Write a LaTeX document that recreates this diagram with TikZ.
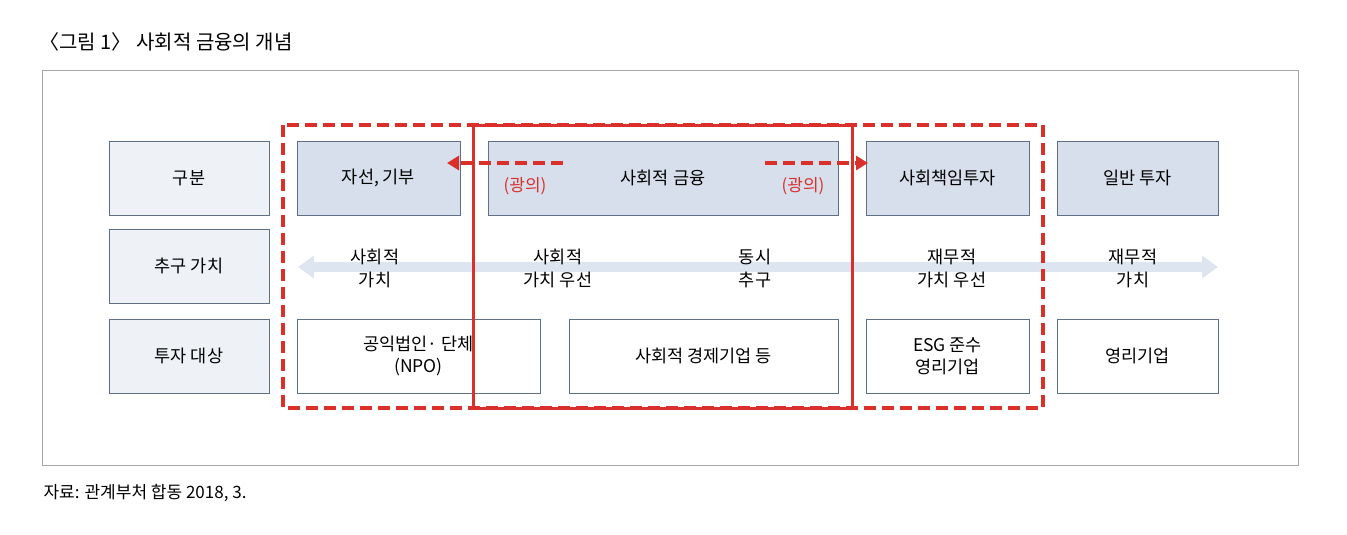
\documentclass[tikz,border=0pt]{standalone}
\usepackage{fontspec}
\setmainfont{Noto Sans CJK KR}
\usetikzlibrary{arrows.meta}
\definecolor{redc}{HTML}{D9302C}
\definecolor{boxd}{HTML}{D6DFEB}
\definecolor{boxl}{HTML}{EEF1F6}
\definecolor{edge}{HTML}{5E6F86}
\definecolor{arr}{HTML}{DCE5F0}
\begin{document}
\begin{tikzpicture}[x=1pt,y=-1pt,
  bx/.style={draw=edge,line width=0.8pt,minimum height=74pt,align=center,font=\fontsize{17.5}{22}\selectfont},
  lbl/.style={align=center,font=\fontsize{17.5}{23}\selectfont},
  red/.style={text=redc,font=\fontsize{17}{20}\selectfont}]
\useasboundingbox (0,0) rectangle (1347,535);
\node[anchor=west,font=\fontsize{20}{24}\selectfont] (title) at (36,42) {〈그림 1〉 사회적 금융의 개념};
\draw[gray!70,line width=0.8pt] (42,70) rectangle (1298,465);
\node[bx,fill=boxl,minimum width=160pt] (g1) at (189,178) {구분};
\node[bx,fill=boxl,minimum width=160pt] (g2) at (189,266) {추구 가치};
\node[bx,fill=boxl,minimum width=160pt] (g3) at (189,356) {투자 대상};
\node[bx,fill=boxd,minimum width=163pt] (a1) at (378.5,178) {자선, 기부};
\node[bx,fill=boxd,minimum width=350pt] (a2) at (663,178) {사회적 금융};
\node[bx,fill=boxd,minimum width=163pt] (a3) at (947.5,178) {사회책임투자};
\node[bx,fill=boxd,minimum width=161pt] (a4) at (1137.5,178) {일반 투자};
\node[bx,fill=white,minimum width=243pt] (c1) at (418.5,356) {공익법인· 단체\\(NPO)};
\node[bx,fill=white,minimum width=269pt] (c2) at (703.5,356) {사회적 경제기업 등};
\node[bx,fill=white,minimum width=163pt] (c3) at (947.5,356) {ESG 준수\\영리기업};
\node[bx,fill=white,minimum width=161pt] (c4) at (1137.5,356) {영리기업};
\coordinate (al) at (298,267); \coordinate (ar) at (1218,267);
\draw[arr,line width=10pt,{Triangle[length=16pt,width=22pt]}-{Triangle[length=16pt,width=22pt]}] (al) -- (ar);
\node[lbl] (t1) at (375,268) {사회적\\가치};
\node[lbl] (t2) at (558,268) {사회적\\가치 우선};
\node[lbl] (t3) at (755,268) {동시\\추구};
\node[lbl] (t4) at (952,268) {재무적\\가치 우선};
\node[lbl] (t5) at (1133,268) {재무적\\가치};
\draw[redc,line width=3.5pt,dash pattern=on 12pt off 6pt] (283,125) rectangle (1043,408);
\draw[redc,line width=3pt] (473,125) rectangle (852,408);
\coordinate (l1) at (563,163); \coordinate (l2) at (447,163);
\coordinate (r1) at (765,163); \coordinate (r2) at (868,163);
\draw[redc,line width=3.5pt,dash pattern=on 12pt off 6pt,-{Triangle[length=12pt,width=14pt]}] (l1) -- (l2);
\draw[redc,line width=3.5pt,dash pattern=on 12pt off 6pt,-{Triangle[length=12pt,width=14pt]}] (r1) -- (r2);
\node[red] (w1) at (525,186) {(광의)};
\node[red] (w2) at (803,186) {(광의)};
\node[anchor=west,font=\fontsize{17}{20}\selectfont] (src) at (40,493) {자료: 관계부처 합동 2018, 3.};
\end{tikzpicture}
\end{document}
